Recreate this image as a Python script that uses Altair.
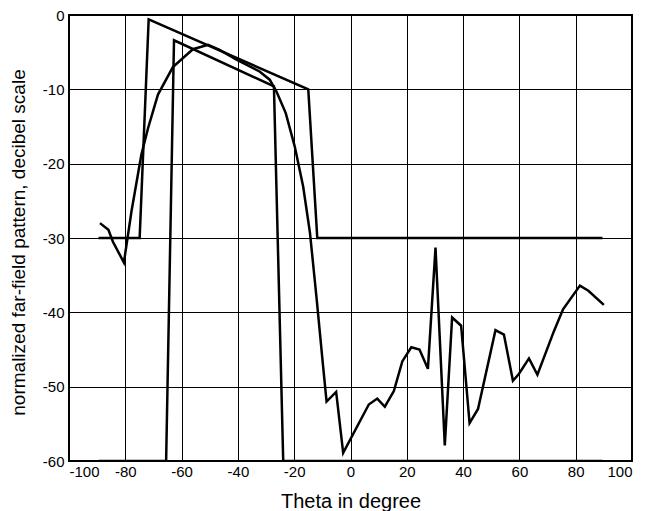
import altair as alt
import pandas as pd

# Upper mask
upper_theta = [-89.5, -74.9, -71.7, -15.0, -11.8, 89.5]
upper_db = [-30, -30, -0.6, -10, -30, -30]

# Lower mask
lower_theta = [-89.5, -65.5, -62.7, -27.2, -23.9, 89.5]
lower_db = [-60, -60, -3.4, -9.6, -60, -60]

# Far-field pattern
pat_theta = [-89.0, -86.0, -84.4, -80.5, -77.8, -74.3, -71.9, -68.4, -63.1, -56.0,
             -50.6, -46.5, -40.5, -32.3, -28.7, -26.3, -23.0, -19.8, -16.8, -14.4,
             -12.0, -9.8, -8.5, -5.1, -2.6, 6.5, 9.5, 12.2, 15.4, 18.4,
             21.6, 24.5, 27.5, 30.2, 33.5, 36.1, 39.3, 42.3, 45.3, 51.5,
             54.5, 57.7, 59.8, 63.4, 66.4, 72.3, 75.5, 81.5, 84.5, 90.0]
pat_db = [-28.0, -28.9, -30.5, -33.3, -26.4, -18.8, -15.2, -10.7, -7.0, -4.6,
          -4.0, -4.7, -6.0, -7.6, -8.7, -10.3, -13.2, -17.7, -23.1, -29.3,
          -38.3, -47.0, -52.0, -50.7, -58.9, -52.4, -51.6, -52.7, -50.6, -46.6,
          -44.7, -45.0, -47.6, -31.3, -57.9, -40.7, -41.8, -54.9, -53.0, -42.4,
          -43.0, -49.2, -48.3, -46.2, -48.4, -42.5, -39.6, -36.4, -37.1, -39.0]

x_ticks = [-100, -80, -60, -40, -20, 0, 20, 40, 60, 80, 100]
y_ticks = [-60, -50, -40, -30, -20, -10, 0]

rows = []
for name, xs, ys in [("upper", upper_theta, upper_db),
                     ("lower", lower_theta, lower_db),
                     ("pattern", pat_theta, pat_db)]:
    for i, (a, b) in enumerate(zip(xs, ys)):
        rows.append({"series": name, "idx": i, "theta": a, "db": b})
df = pd.DataFrame(rows)

font = "Liberation Sans"

chart = alt.Chart(df).mark_line(color="black", strokeWidth=2.5, clip=True).encode(
    x=alt.X("theta:Q",
            scale=alt.Scale(domain=[-100, 100], nice=False, zero=False),
            axis=alt.Axis(values=x_ticks, title="Theta in degree", grid=True,
                          gridColor="black", gridWidth=1, gridOpacity=1,
                          ticks=False, domain=False, labelFontSize=15,
                          labelExpr="datum.value + ''",
                          labelFont=font, labelColor="black", labelPadding=3,
                          titleFont=font, titleFontSize=20, titleFontWeight="normal",
                          titleColor="black", titleY=46, titleBaseline="alphabetic")),
    y=alt.Y("db:Q",
            scale=alt.Scale(domain=[-60, 0], nice=False, zero=False),
            axis=alt.Axis(values=y_ticks, title="normalized far-field pattern, decibel scale",
                          grid=True, gridColor="black", gridWidth=1, gridOpacity=1,
                          ticks=False, domain=False, labelFontSize=15,
                          labelExpr="datum.value + ''",
                          labelFont=font, labelColor="black", labelPadding=5,
                          titleFont=font, titleFontSize=19, titleFontWeight="normal",
                          titleColor="black", titleX=-51, titleY=227,
                          titleBaseline="middle")),
    detail="series:N",
    order="idx:Q",
).properties(
    width=563,
    height=446,
    autosize=alt.AutoSizeParams(type="none"),
    padding={"left": 69, "top": 15, "right": 17, "bottom": 50},
).configure_view(stroke="black", strokeWidth=2)

chart.save("out.html", embed_options={"renderer": "svg", "actions": False})
